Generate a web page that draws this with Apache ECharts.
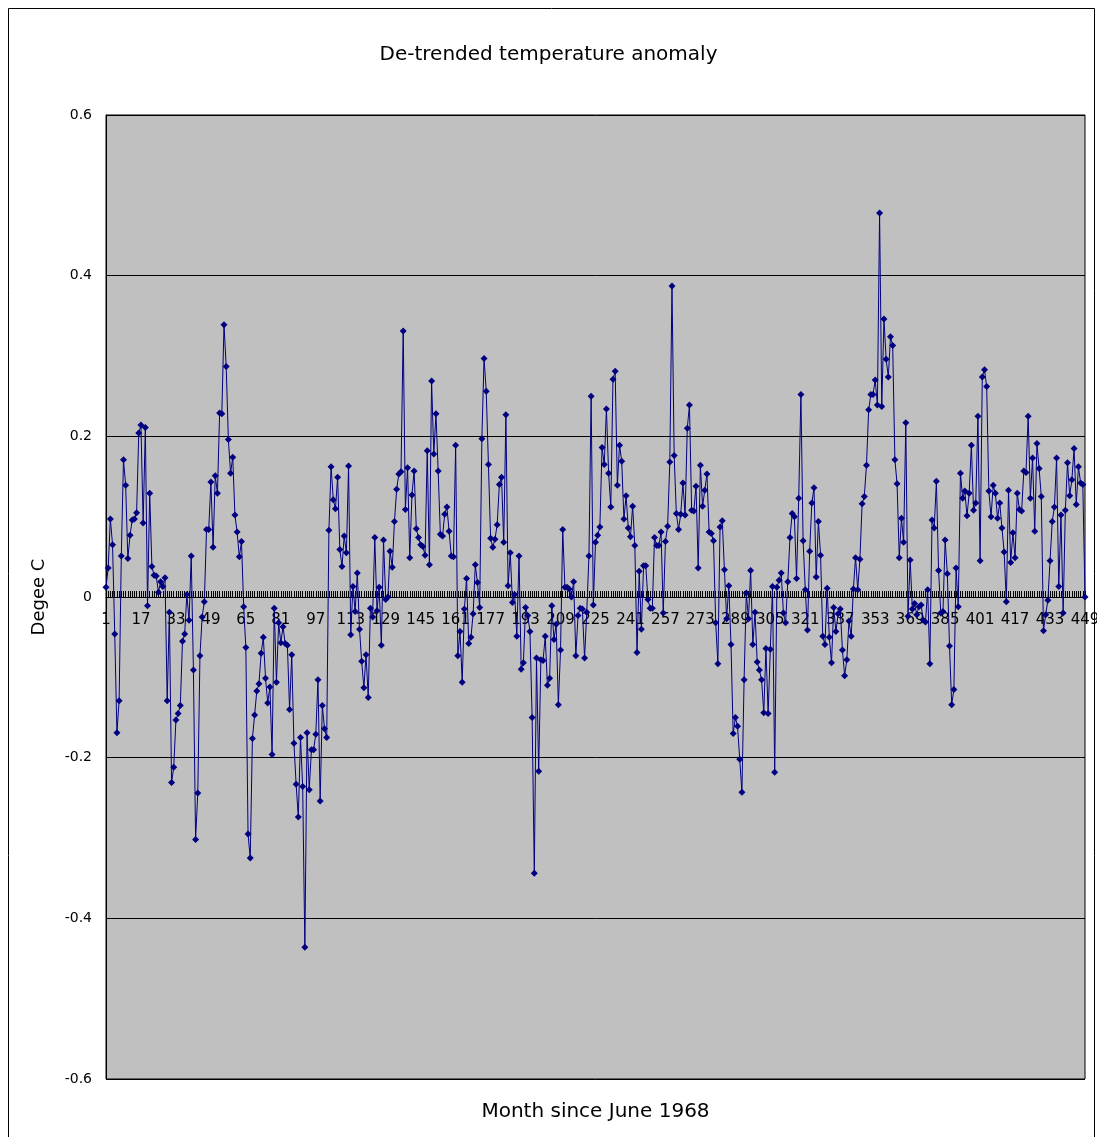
<!DOCTYPE html>
<html>
<head>
<meta charset="utf-8">
<title>De-trended temperature anomaly</title>
<script src="https://cdn.jsdelivr.net/npm/echarts/dist/echarts.min.js"></script>
<style>
html, body { margin: 0; padding: 0; background: #fff; }
#chart { width: 1097px; height: 1137px; }
</style>
</head>
<body>
<div id="chart"></div>
<script>
// months since June 1968 (category axis)
var months = [];
for (var m = 1; m <= 449; m++) months.push(String(m));

// de-trended anomaly, deg C
var anomaly = [
    0.012, 0.036, 0.097, 0.065, -0.046, -0.169, -0.129, 0.051, 0.171, 0.139,
    0.048, 0.077, 0.096, 0.097, 0.105, 0.204, 0.214, 0.092, 0.211, -0.011,
    0.129, 0.038, 0.027, 0.026, 0.006, 0.019, 0.013, 0.024, -0.129, -0.019,
    -0.231, -0.212, -0.153, -0.145, -0.135, -0.055, -0.046, 0.003, -0.029, 0.051,
    -0.091, -0.302, -0.244, -0.073, -0.025, -0.006, 0.084, 0.084, 0.143, 0.062,
    0.151, 0.129, 0.229, 0.228, 0.339, 0.287, 0.196, 0.154, 0.174, 0.102,
    0.081, 0.050, 0.069, -0.012, -0.063, -0.295, -0.325, -0.176, -0.147, -0.117,
    -0.108, -0.070, -0.050, -0.101, -0.132, -0.112, -0.196, -0.014, -0.106, -0.032,
    -0.057, -0.037, -0.058, -0.060, -0.140, -0.072, -0.182, -0.233, -0.274, -0.175,
    -0.236, -0.436, -0.169, -0.240, -0.190, -0.190, -0.171, -0.103, -0.254, -0.135,
    -0.164, -0.175, 0.083, 0.162, 0.121, 0.110, 0.149, 0.059, 0.038, 0.076,
    0.055, 0.163, -0.047, 0.013, -0.018, 0.030, -0.040, -0.080, -0.113, -0.072,
    -0.125, -0.014, -0.025, 0.074, -0.017, 0.012, -0.060, 0.071, -0.003, 0.000,
    0.057, 0.037, 0.094, 0.134, 0.153, 0.156, 0.331, 0.109, 0.161, 0.049,
    0.127, 0.157, 0.085, 0.074, 0.065, 0.063, 0.052, 0.182, 0.040, 0.269,
    0.178, 0.228, 0.157, 0.078, 0.076, 0.103, 0.112, 0.082, 0.051, 0.050,
    0.189, -0.073, -0.043, -0.106, -0.015, 0.023, -0.058, -0.050, -0.021, 0.040,
    0.018, -0.013, 0.197, 0.297, 0.256, 0.165, 0.073, 0.062, 0.072, 0.090,
    0.140, 0.149, 0.068, 0.227, 0.014, 0.055, -0.007, 0.003, -0.049, 0.051,
    -0.090, -0.082, -0.013, -0.023, -0.043, -0.150, -0.344, -0.076, -0.217, -0.078,
    -0.079, -0.049, -0.110, -0.101, -0.011, -0.053, -0.034, -0.134, -0.066, 0.084,
    0.012, 0.012, 0.010, 0.000, 0.019, -0.073, -0.023, -0.014, -0.015, -0.076,
    -0.019, 0.051, 0.250, -0.010, 0.068, 0.077, 0.087, 0.186, 0.165, 0.234,
    0.154, 0.112, 0.271, 0.281, 0.139, 0.189, 0.169, 0.097, 0.126, 0.086,
    0.075, 0.113, 0.064, -0.069, 0.032, -0.040, 0.039, 0.039, -0.003, -0.014,
    -0.014, 0.074, 0.064, 0.064, 0.081, -0.020, 0.069, 0.088, 0.168, 0.387,
    0.176, 0.104, 0.084, 0.103, 0.142, 0.102, 0.210, 0.239, 0.108, 0.107,
    0.138, 0.036, 0.164, 0.113, 0.133, 0.153, 0.081, 0.079, 0.070, -0.032,
    -0.083, 0.087, 0.095, 0.034, -0.027, 0.014, -0.059, -0.170, -0.150, -0.161,
    -0.202, -0.243, -0.103, 0.005, -0.027, 0.033, -0.059, -0.019, -0.081, -0.091,
    -0.103, -0.144, -0.064, -0.145, -0.065, 0.013, -0.218, 0.012, 0.021, 0.030,
    -0.020, -0.032, 0.019, 0.074, 0.104, 0.100, 0.023, 0.123, 0.252, 0.070,
    0.009, -0.041, 0.057, 0.117, 0.136, 0.025, 0.094, 0.052, -0.049, -0.059,
    0.011, -0.050, -0.082, -0.013, -0.043, -0.021, -0.015, -0.066, -0.098, -0.078,
    -0.030, -0.049, 0.010, 0.049, 0.009, 0.047, 0.116, 0.125, 0.164, 0.233,
    0.252, 0.252, 0.270, 0.239, 0.478, 0.237, 0.346, 0.296, 0.274, 0.324,
    0.313, 0.171, 0.141, 0.049, 0.098, 0.068, 0.217, -0.024, 0.046, -0.015,
    -0.008, -0.022, -0.012, -0.010, -0.029, -0.031, 0.009, -0.083, 0.096, 0.086,
    0.144, 0.033, -0.020, -0.018, 0.071, 0.029, -0.061, -0.134, -0.115, 0.036,
    -0.012, 0.154, 0.123, 0.132, 0.101, 0.129, 0.189, 0.108, 0.117, 0.225,
    0.045, 0.274, 0.283, 0.262, 0.132, 0.100, 0.139, 0.129, 0.098, 0.117,
    0.086, 0.056, -0.006, 0.133, 0.043, 0.080, 0.049, 0.129, 0.109, 0.107,
    0.157, 0.155, 0.225, 0.123, 0.173, 0.082, 0.191, 0.160, 0.125, -0.042,
    -0.022, -0.004, 0.045, 0.094, 0.112, 0.173, 0.013, 0.102, -0.020, 0.108,
    0.167, 0.126, 0.146, 0.185, 0.115, 0.162, 0.142, 0.140, 0.000
];

var yMin = -0.6, yMax = 0.6, yStep = 0.2;
var labelEvery = 16;

// plot box in pixels
var gridTop = 115, gridBottom = 58, chartH = 1137;
var plotH = chartH - gridTop - gridBottom;
// move the category axis up from the bottom edge to the 0 line
var zeroOffset = -plotH * (0 - yMin) / (yMax - yMin);

var myChart = echarts.init(document.getElementById('chart'));
var option = {
    animation: false,
    backgroundColor: '#fff',
    textStyle: { fontFamily: 'DejaVu Sans' },
    title: {
        text: 'De-trended temperature anomaly',
        left: 'center',
        top: 40,
        textStyle: { fontSize: 20, fontWeight: 'normal', color: '#000', fontFamily: 'DejaVu Sans' }
    },
    graphic: [{
        type: 'rect',
        shape: { x: 8.5, y: 8.5, width: 1086, height: 1140 },
        style: { fill: 'none', stroke: '#000', lineWidth: 1 },
        silent: true
    }],
    grid: {
        left: 106,
        right: 12,
        top: gridTop,
        bottom: gridBottom,
        show: true,
        backgroundColor: '#c0c0c0',
        borderColor: '#000',
        borderWidth: 1,
        containLabel: false,
        outerBoundsMode: 'none'
    },
    xAxis: {
        type: 'category',
        data: months,
        boundaryGap: false,
        position: 'bottom',
        offset: zeroOffset,
        name: 'Month since June 1968',
        nameLocation: 'middle',
        nameGap: 505,
        nameTextStyle: { fontSize: 20, color: '#000', fontFamily: 'DejaVu Sans' },
        axisLine: { onZero: false, lineStyle: { color: '#000', width: 1 } },
        axisTick: { show: true, interval: 0, inside: true, length: 6, lineStyle: { color: '#000' } },
        axisLabel: {
            interval: labelEvery - 1,
            margin: 16,
            fontSize: 15,
            color: '#000',
            fontFamily: 'DejaVu Sans'
        },
        splitLine: { show: false }
    },
    yAxis: {
        type: 'value',
        min: yMin,
        max: yMax,
        interval: yStep,
        name: 'Degee C',
        nameLocation: 'middle',
        nameGap: 58,
        nameTextStyle: { fontSize: 18, color: '#000', fontFamily: 'DejaVu Sans' },
        axisLine: { show: true, lineStyle: { color: '#000' } },
        axisTick: { show: false },
        axisLabel: {
            margin: 14,
            fontSize: 14,
            color: '#000',
            fontFamily: 'DejaVu Sans',
            formatter: function (v) {
                if (Math.abs(v) < 1e-9) return '0';
                return v.toFixed(1);
            }
        },
        splitLine: { show: true, lineStyle: { color: '#000', width: 1 } }
    },
    series: [{
        name: 'anomaly',
        type: 'line',
        data: anomaly,
        symbol: 'diamond',
        symbolSize: 7,
        showAllSymbol: true,
        itemStyle: { color: '#000080' },
        lineStyle: { color: '#000080', width: 1 }
    }]
};
myChart.setOption(option, true);
</script>
</body>
</html>
